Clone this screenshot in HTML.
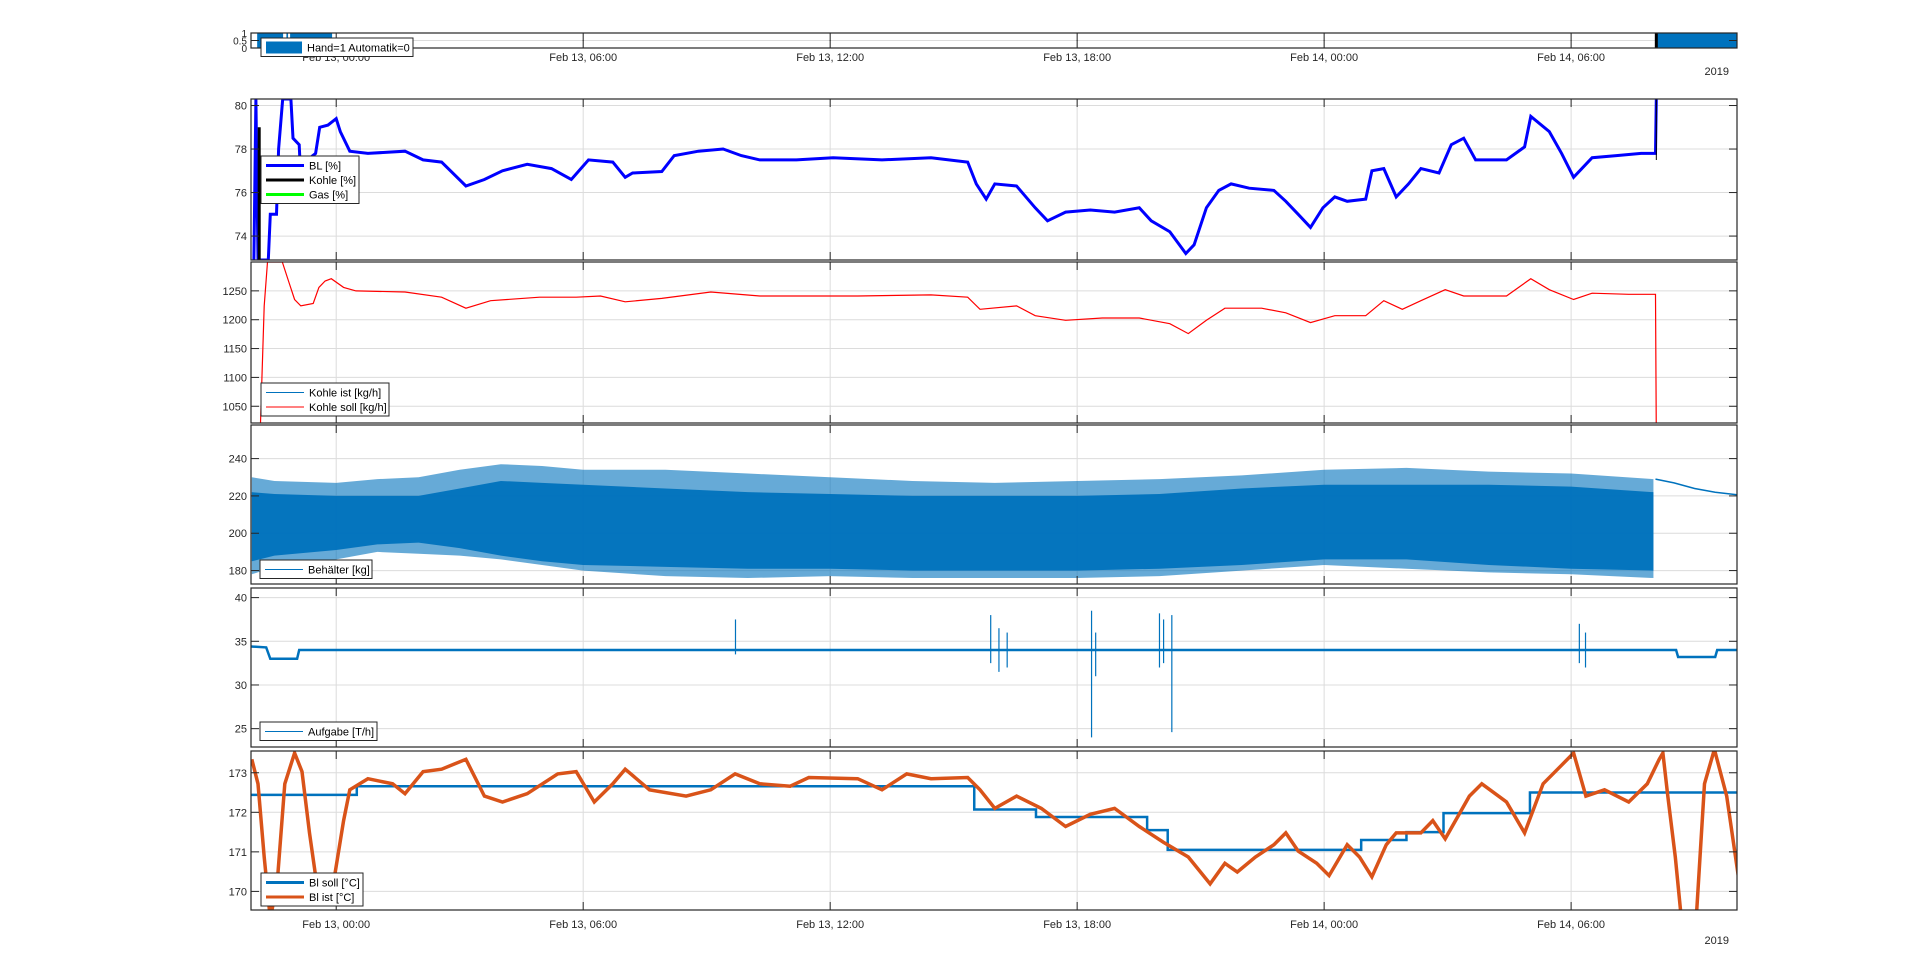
<!DOCTYPE html>
<html><head><meta charset="utf-8">
<style>
html,body{margin:0;padding:0;background:#fff;}
svg{display:block;font-family:"Liberation Sans",sans-serif;}
</style></head>
<body>
<svg id="c" width="1920" height="963" viewBox="0 0 1920 963"></svg>
<script>
// ---- data (time in hours since Feb 13 00:00) ----
const xTickHours = [0, 6, 12, 18, 24, 30];
const xTickLabels = ["Feb 13, 00:00","Feb 13, 06:00","Feb 13, 12:00","Feb 13, 18:00","Feb 14, 00:00","Feb 14, 06:00"];
const handIntervals = [[-1.92,-1.29],[-1.21,-1.17],[-1.12,-0.10],[32.1,34.1]];
const blT = [-2.0,-1.95,-1.9,-1.65,-1.6,-1.45,-1.4,-1.3,-1.1,-1.05,-0.9,-0.85,-0.7,-0.5,-0.4,-0.2,0.0,0.1,0.33,0.77,1.67,2.11,2.56,3.15,3.6,4.04,4.64,5.23,5.71,6.13,6.72,7.02,7.2,7.91,8.21,8.8,9.4,9.84,10.29,11.18,12.07,13.26,14.45,15.34,15.55,15.79,16.0,16.53,16.98,17.28,17.72,18.32,18.91,19.51,19.8,20.25,20.64,20.84,21.14,21.44,21.74,22.18,22.78,23.07,23.37,23.67,23.97,24.26,24.56,25.01,25.16,25.45,25.75,26.05,26.35,26.79,27.09,27.39,27.68,28.43,28.87,29.02,29.47,29.77,30.06,30.51,31.1,31.7,32.05,32.07];
const blV = [72.9,80.3,72.9,72.9,75,75,78,80.3,80.3,78.5,78.2,76.2,77.5,77.8,79,79.1,79.4,78.8,77.9,77.8,77.9,77.5,77.4,76.3,76.6,77.0,77.3,77.1,76.6,77.5,77.4,76.7,76.9,76.97,77.7,77.9,78.0,77.7,77.5,77.5,77.6,77.5,77.6,77.4,76.4,75.7,76.4,76.3,75.3,74.7,75.1,75.2,75.1,75.3,74.7,74.2,73.2,73.6,75.3,76.1,76.4,76.2,76.1,75.6,75.0,74.4,75.3,75.8,75.6,75.7,77.0,77.1,75.8,76.4,77.1,76.9,78.2,78.5,77.5,77.5,78.1,79.5,78.8,77.8,76.7,77.6,77.7,77.8,77.8,80.3];
const kohlePctT = [-1.87,-1.87];
const kohlePctV = [72.9,79.0];
const kSollT = [-1.84,-1.75,-1.67,-1.31,-1.16,-1.01,-0.86,-0.56,-0.42,-0.27,-0.12,0.18,0.48,1.67,2.56,3.15,3.75,4.94,5.83,6.42,7.02,7.91,9.1,10.29,12.67,14.45,15.34,15.64,16.53,16.98,17.72,18.61,19.51,20.25,20.7,21.14,21.59,22.48,23.07,23.67,24.26,25.01,25.45,25.9,26.35,26.94,27.39,28.43,29.02,29.47,30.06,30.51,31.4,32.05,32.07];
const kSollV = [1021,1224,1300,1300,1267,1235,1224,1228,1256,1267,1271,1256,1250,1248,1239,1220,1233,1239,1239,1241,1231,1237,1248,1241,1241,1243,1239,1218,1224,1207,1199,1203,1203,1193,1176,1199,1220,1220,1212,1195,1207,1207,1233,1218,1233,1252,1241,1241,1271,1252,1235,1246,1244,1244,1000];
const behT = [-2.05,-1.5,0,1,2,3,4,5,6,8,10,12,14,16,18,20,22,24,26,28,30,32];
const behOuterHi = [230,228,227,229,230,234,237,236,234,234,232,230,228,227,228,229,231,234,235,233,232,229];
const behOuterLo = [178,182,186,190,189,188,186,183,180,177,176,177,176,176,176,177,180,183,181,179,178,176];
const behInnerHi = [222,221,220,220,220,224,228,227,226,224,222,221,220,220,220,221,224,226,226,226,225,222];
const behInnerLo = [185,188,191,194,195,192,188,185,183,182,181,181,180,180,180,181,183,186,186,183,181,180];
const behTailT = [32.05,32.5,33,33.5,34.08];
const behTailV = [229,227,224,222,220.5];
const aufT = [-2.07,-1.7,-1.6,-0.95,-0.9,32.55,32.6,33.5,33.55,34.08];
const aufV = [34.4,34.3,33.0,33.0,34.0,34.0,33.2,33.2,34.0,34.0];
const aufSpikeT = [9.7,15.9,16.1,16.3,18.35,18.45,20.0,20.1,20.3,30.2,30.35];
const aufSpikeHi = [37.5,38,36.5,36,38.5,36,38.2,37.5,38,37,36];
const aufSpikeLo = [33.5,32.5,31.5,32,24.0,31,32,32.5,24.6,32.5,32];
const sollT = [-2.1,0.5,15.5,17.0,19.7,20.2,24.9,26.0,26.9,29.0,34.1];
const sollV = [172.44,172.66,172.07,171.88,171.55,171.05,171.3,171.5,171.98,172.5,172.5];
const istT = [-2.05,-1.9,-1.75,-1.6,-1.43,-1.25,-1.01,-0.83,-0.65,-0.48,-0.27,-0.06,0.18,0.33,0.77,1.37,1.67,2.11,2.56,3.15,3.6,4.04,4.64,5.38,5.83,6.27,6.72,7.02,7.61,8.5,9.1,9.69,10.29,11.03,11.48,12.67,13.26,13.86,14.45,15.34,15.64,16.0,16.53,17.13,17.72,18.32,18.91,19.51,20.1,20.7,21.23,21.59,21.89,22.33,22.78,23.07,23.37,23.82,24.12,24.56,24.86,25.16,25.51,25.75,26.35,26.64,26.94,27.53,27.83,28.43,28.87,29.32,29.77,30.06,30.36,30.81,31.4,31.85,32.14,32.23,32.35,32.53,32.68,33.04,33.24,33.48,33.78,34.08];
const istV = [173.34,172.72,170.87,169.3,170.25,172.72,173.5,173.03,171.48,170.25,169.78,170.25,171.79,172.57,172.85,172.72,172.47,173.03,173.09,173.34,172.41,172.26,172.47,172.97,173.03,172.26,172.72,173.09,172.57,172.41,172.57,172.97,172.72,172.66,172.88,172.85,172.57,172.97,172.85,172.88,172.57,172.1,172.41,172.1,171.64,171.95,172.1,171.64,171.24,170.87,170.19,170.71,170.49,170.87,171.18,171.48,171.02,170.71,170.4,171.18,170.87,170.37,171.18,171.48,171.48,171.79,171.33,172.41,172.72,172.26,171.48,172.72,173.19,173.5,172.41,172.57,172.26,172.72,173.34,173.5,172.41,170.87,169.3,169.3,172.72,173.59,172.41,170.25];

// ---- layout ----
const NS="http://www.w3.org/2000/svg";
const svg=document.getElementById('c');
const L=251,R=1737,T0=-2.07,T1=34.03;
const xs=t=>L+(t-T0)/(T1-T0)*(R-L);
function el(tag,attrs,parent){const e=document.createElementNS(NS,tag);for(const k in attrs)e.setAttribute(k,attrs[k]);(parent||svg).appendChild(e);return e;}
function mkPanel(name,top,bot,y0,y1,ticks){
  const g=el('g',{});
  
  
  const ys=v=>bot-(v-y0)/(y1-y0)*(bot-top);
  const cid='clip-'+name;
  const cp=el('clipPath',{id:cid},g);el('rect',{x:L,y:top,width:R-L,height:bot-top},cp);
  xTickHours.forEach(h=>{const gl=el('line',{x1:xs(h),x2:xs(h),y1:top,y2:bot,stroke:'#dcdcdc','stroke-width':1},g);
    });
  ticks.forEach(v=>{const gl=el('line',{x1:L,x2:R,y1:ys(v),y2:ys(v),stroke:'#dcdcdc','stroke-width':1},g);
    });
  const plot=el('g',{'clip-path':'url(#'+cid+')'},g);
  return {g,plot,ys,top,bot};
}
function finishPanel(p,ticks,labels){
  const g=p.g;
  xTickHours.forEach(h=>{el('line',{x1:xs(h),x2:xs(h),y1:p.bot,y2:p.bot-8,stroke:'#262626'},g);el('line',{x1:xs(h),x2:xs(h),y1:p.top,y2:p.top+8,stroke:'#262626'},g);});
  ticks.forEach((v,i)=>{const y=p.ys(v);el('line',{x1:L,x2:L+8,y1:y,y2:y,stroke:'#262626'},g);el('line',{x1:R,x2:R-8,y1:y,y2:y,stroke:'#262626'},g);
    const t=el('text',{x:L-4,y:y+4,'text-anchor':'end','font-size':(p.bot-p.top<30)?10:11,fill:'#262626'},g);t.textContent=labels[i];
    });
  const b=el('rect',{x:L,y:p.top,width:R-L,height:p.bot-p.top,fill:'none',stroke:'#262626','stroke-width':1.2},g);
  
}
function line(p,T,V,color,w,name){
  const d=T.map((t,i)=>(i?'L':'M')+xs(t).toFixed(1)+','+p.ys(V[i]).toFixed(1)).join('');
  const e=el('path',{d,fill:'none',stroke:color,'stroke-width':w,'stroke-linejoin':'miter'},p.plot);
  return e;
}
function stepLine(p,T,V,color,w,name){
  let d='';T.forEach((t,i)=>{if(i===0)d+='M'+xs(t)+','+p.ys(V[i]);else d+='L'+xs(t)+','+p.ys(V[i-1])+'L'+xs(t)+','+p.ys(V[i]);});
  const e=el('path',{d,fill:'none',stroke:color,'stroke-width':w},p.plot);
  
}
function band(p,T,HI,LO,color,op,name){
  let d=T.map((t,i)=>(i?'L':'M')+xs(t)+','+p.ys(HI[i])).join('');
  for(let i=T.length-1;i>=0;i--)d+='L'+xs(T[i])+','+p.ys(LO[i]);d+='Z';
  const e=el('path',{d,fill:color,'fill-opacity':op,stroke:'none'},p.plot);
  
}
function legend(name,x,y,w,entries,lw,swW){
  const g=el('g',{});
  const h=entries.length*14.5+4;
  el('rect',{x,y,width:w,height:h,fill:'#fff',stroke:'#262626','stroke-width':1},g);
  entries.forEach((e,i)=>{const cy=y+9.5+i*14.5;
    const s=el('line',{x1:x+5,x2:x+5+(swW||38),y1:cy,y2:cy,stroke:e[1],'stroke-width':lw},g);
    
    const t=el('text',{x:x+10+(swW||38),y:cy+4,'font-size':11,fill:'#000'},g);t.textContent=e[0];
    });
}

// panel 1
const p1=mkPanel('hand-automatik-panel',33,48,0,1,[0,0.5,1]);
handIntervals.forEach(iv=>{const r=el('rect',{x:xs(iv[0]),y:p1.ys(1),width:xs(iv[1])-xs(iv[0]),height:p1.ys(0)-p1.ys(1),fill:'#0072BD'},p1.plot);
  });
el('line',{x1:xs(32.07),x2:xs(32.07),y1:33,y2:48,stroke:'#000','stroke-width':3},p1.plot);
finishPanel(p1,[0,0.5,1],['0','0.5','1']);
xTickHours.forEach((h,i)=>{const t=el('text',{x:xs(h),y:61,'text-anchor':'middle','font-size':11,fill:'#262626'});t.textContent=xTickLabels[i];
  });
let yr=el('text',{x:1729,y:75,'text-anchor':'end','font-size':11,fill:'#262626'});yr.textContent='2019';


// panel 2
const t2=[74,76,78,80];
const p2=mkPanel('bl-percent-panel',99,260,72.9,80.3,t2);
line(p2,blT,blV,'#0000FF',3,'bl-line');
line(p2,kohlePctT,kohlePctV,'#000',3,'kohle-pct-line');
el('line',{x1:xs(32.07),x2:xs(32.07),y1:99,y2:160,stroke:'#000','stroke-width':1},p2.plot);
finishPanel(p2,t2,t2.map(String));

// panel 3
const t3=[1050,1100,1150,1200,1250];
const p3=mkPanel('kohle-kgh-panel',262,423,1021,1300,t3);
line(p3,kSollT,kSollV,'#FF0000',1.2,'kohle-soll-line');
finishPanel(p3,t3,t3.map(String));

// panel 4
const t4=[180,200,220,240];
const p4=mkPanel('behaelter-panel',425,584,172.8,258,t4);
band(p4,behT,behOuterHi,behOuterLo,'#0072BD',0.6,'behaelter-outer-band');
band(p4,behT,behInnerHi,behInnerLo,'#0072BD',0.95,'behaelter-inner-band');
line(p4,behTailT,behTailV,'#0072BD',1.5,'behaelter-tail');
finishPanel(p4,t4,t4.map(String));

// panel 5
const t5=[25,30,35,40];
const p5=mkPanel('aufgabe-panel',588,747,22.9,41.1,t5);
line(p5,aufT,aufV,'#0072BD',2.5,'aufgabe-line');
aufSpikeT.forEach((t,i)=>{const s=el('line',{x1:xs(t),x2:xs(t),y1:p5.ys(aufSpikeHi[i]),y2:p5.ys(aufSpikeLo[i]),stroke:'#0072BD','stroke-width':1.2},p5.plot);
  });
finishPanel(p5,t5,t5.map(String));

// panel 6
const t6=[170,171,172,173];
const p6=mkPanel('bl-temp-panel',751,910,169.53,173.55,t6);
stepLine(p6,sollT,sollV,'#0072BD',2.5,'bl-soll-line');
line(p6,istT,istV,'#D95319',3.5,'bl-ist-line');
finishPanel(p6,t6,t6.map(String));
xTickHours.forEach((h,i)=>{const t=el('text',{x:xs(h),y:928,'text-anchor':'middle','font-size':11,fill:'#262626'});t.textContent=xTickLabels[i];
  });
yr=el('text',{x:1729,y:944,'text-anchor':'end','font-size':11,fill:'#262626'});yr.textContent='2019';


// legends
legend('hand-legend',261,38,152,[['Hand=1 Automatik=0','#0072BD']],12,36);
legend('bl-legend',261,156,98,[['BL [%]','#0000FF'],['Kohle [%]','#000'],['Gas [%]','#00FF00']],3);
legend('kohle-legend',261,383,128,[['Kohle ist [kg/h]','#0072BD'],['Kohle soll [kg/h]','#FF0000']],1);
legend('behaelter-legend',260,560,112,[['Behälter [kg]','#0072BD']],1);
legend('aufgabe-legend',260,722,117,[['Aufgabe [T/h]','#0072BD']],1);
legend('bl-temp-legend',261,873,102,[['Bl soll [°C]','#0072BD'],['Bl ist [°C]','#D95319']],3);
</script>
</body></html>
